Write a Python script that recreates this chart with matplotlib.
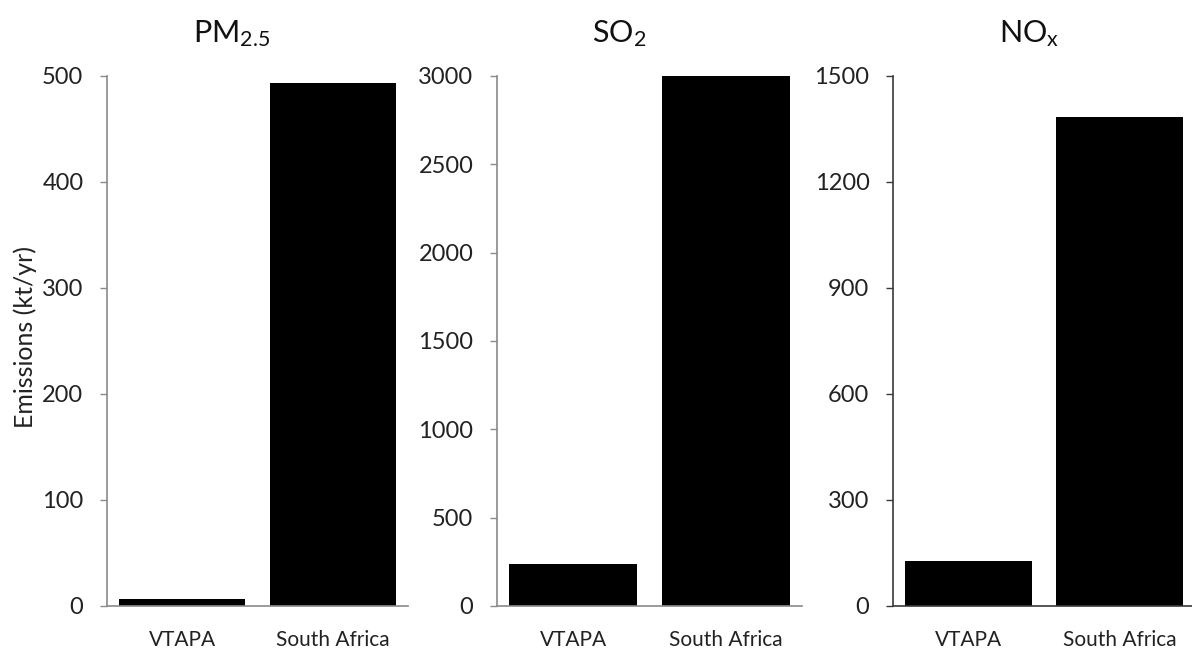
import matplotlib.pyplot as plt

plt.rcParams['font.family'] = ['Lato', 'DejaVu Sans']
plt.rcParams['mathtext.default'] = 'regular'

# Data
categories = ['VTAPA', 'South Africa']
pm25 = [7, 493]
so2 = [235, 3000]
nox = [127, 1384]

titles = ['PM$_{2.5}$', 'SO$_{2}$', 'NO$_{x}$']
series = [pm25, so2, nox]
ylims = [500, 3000, 1500]
yticks = [[0, 100, 200, 300, 400, 500],
          [0, 500, 1000, 1500, 2000, 2500, 3000],
          [0, 300, 600, 900, 1200, 1500]]
spine_colors = ['#8a8a8a', '#8a8a8a', '#3a3a3a']
title_x = [0.415, 0.40, 0.45]

fig = plt.figure(figsize=(11.92, 6.49), dpi=100)
lefts = [0.0898, 0.4169, 0.7492]
widths = [0.2525, 0.2559, 0.2534]

for i in range(3):
    ax = fig.add_axes([lefts[i], 0.0663, widths[i], 0.8166])
    ax.bar(range(len(categories)), series[i], width=0.84, color='black')
    ax.set_xlim(-0.5, 1.5)
    ax.set_ylim(0, ylims[i])
    ax.set_yticks(yticks[i])
    ax.set_xticks(range(len(categories)))
    ax.set_xticklabels(categories, fontsize=15, color='#222222')
    ax.tick_params(axis='x', length=0, pad=17)
    ax.tick_params(axis='y', direction='out', length=5, width=1,
                   color=spine_colors[i], labelsize=17, labelcolor='#222222', pad=12)
    for s in ['top', 'right']:
        ax.spines[s].set_visible(False)
    for s in ['left', 'bottom']:
        ax.spines[s].set_color(spine_colors[i])
        ax.spines[s].set_linewidth(1.2)
    ax.set_title(titles[i], fontsize=22, color='#111111', pad=24, x=title_x[i])

# y label sits in the left margin, like the Excel original
fig.text(25 / 1192, 1 - 337 / 649, 'Emissions (kt/yr)', rotation=90,
         ha='center', va='center', fontsize=18, color='#222222')

plt.savefig('out.png', dpi=100)
